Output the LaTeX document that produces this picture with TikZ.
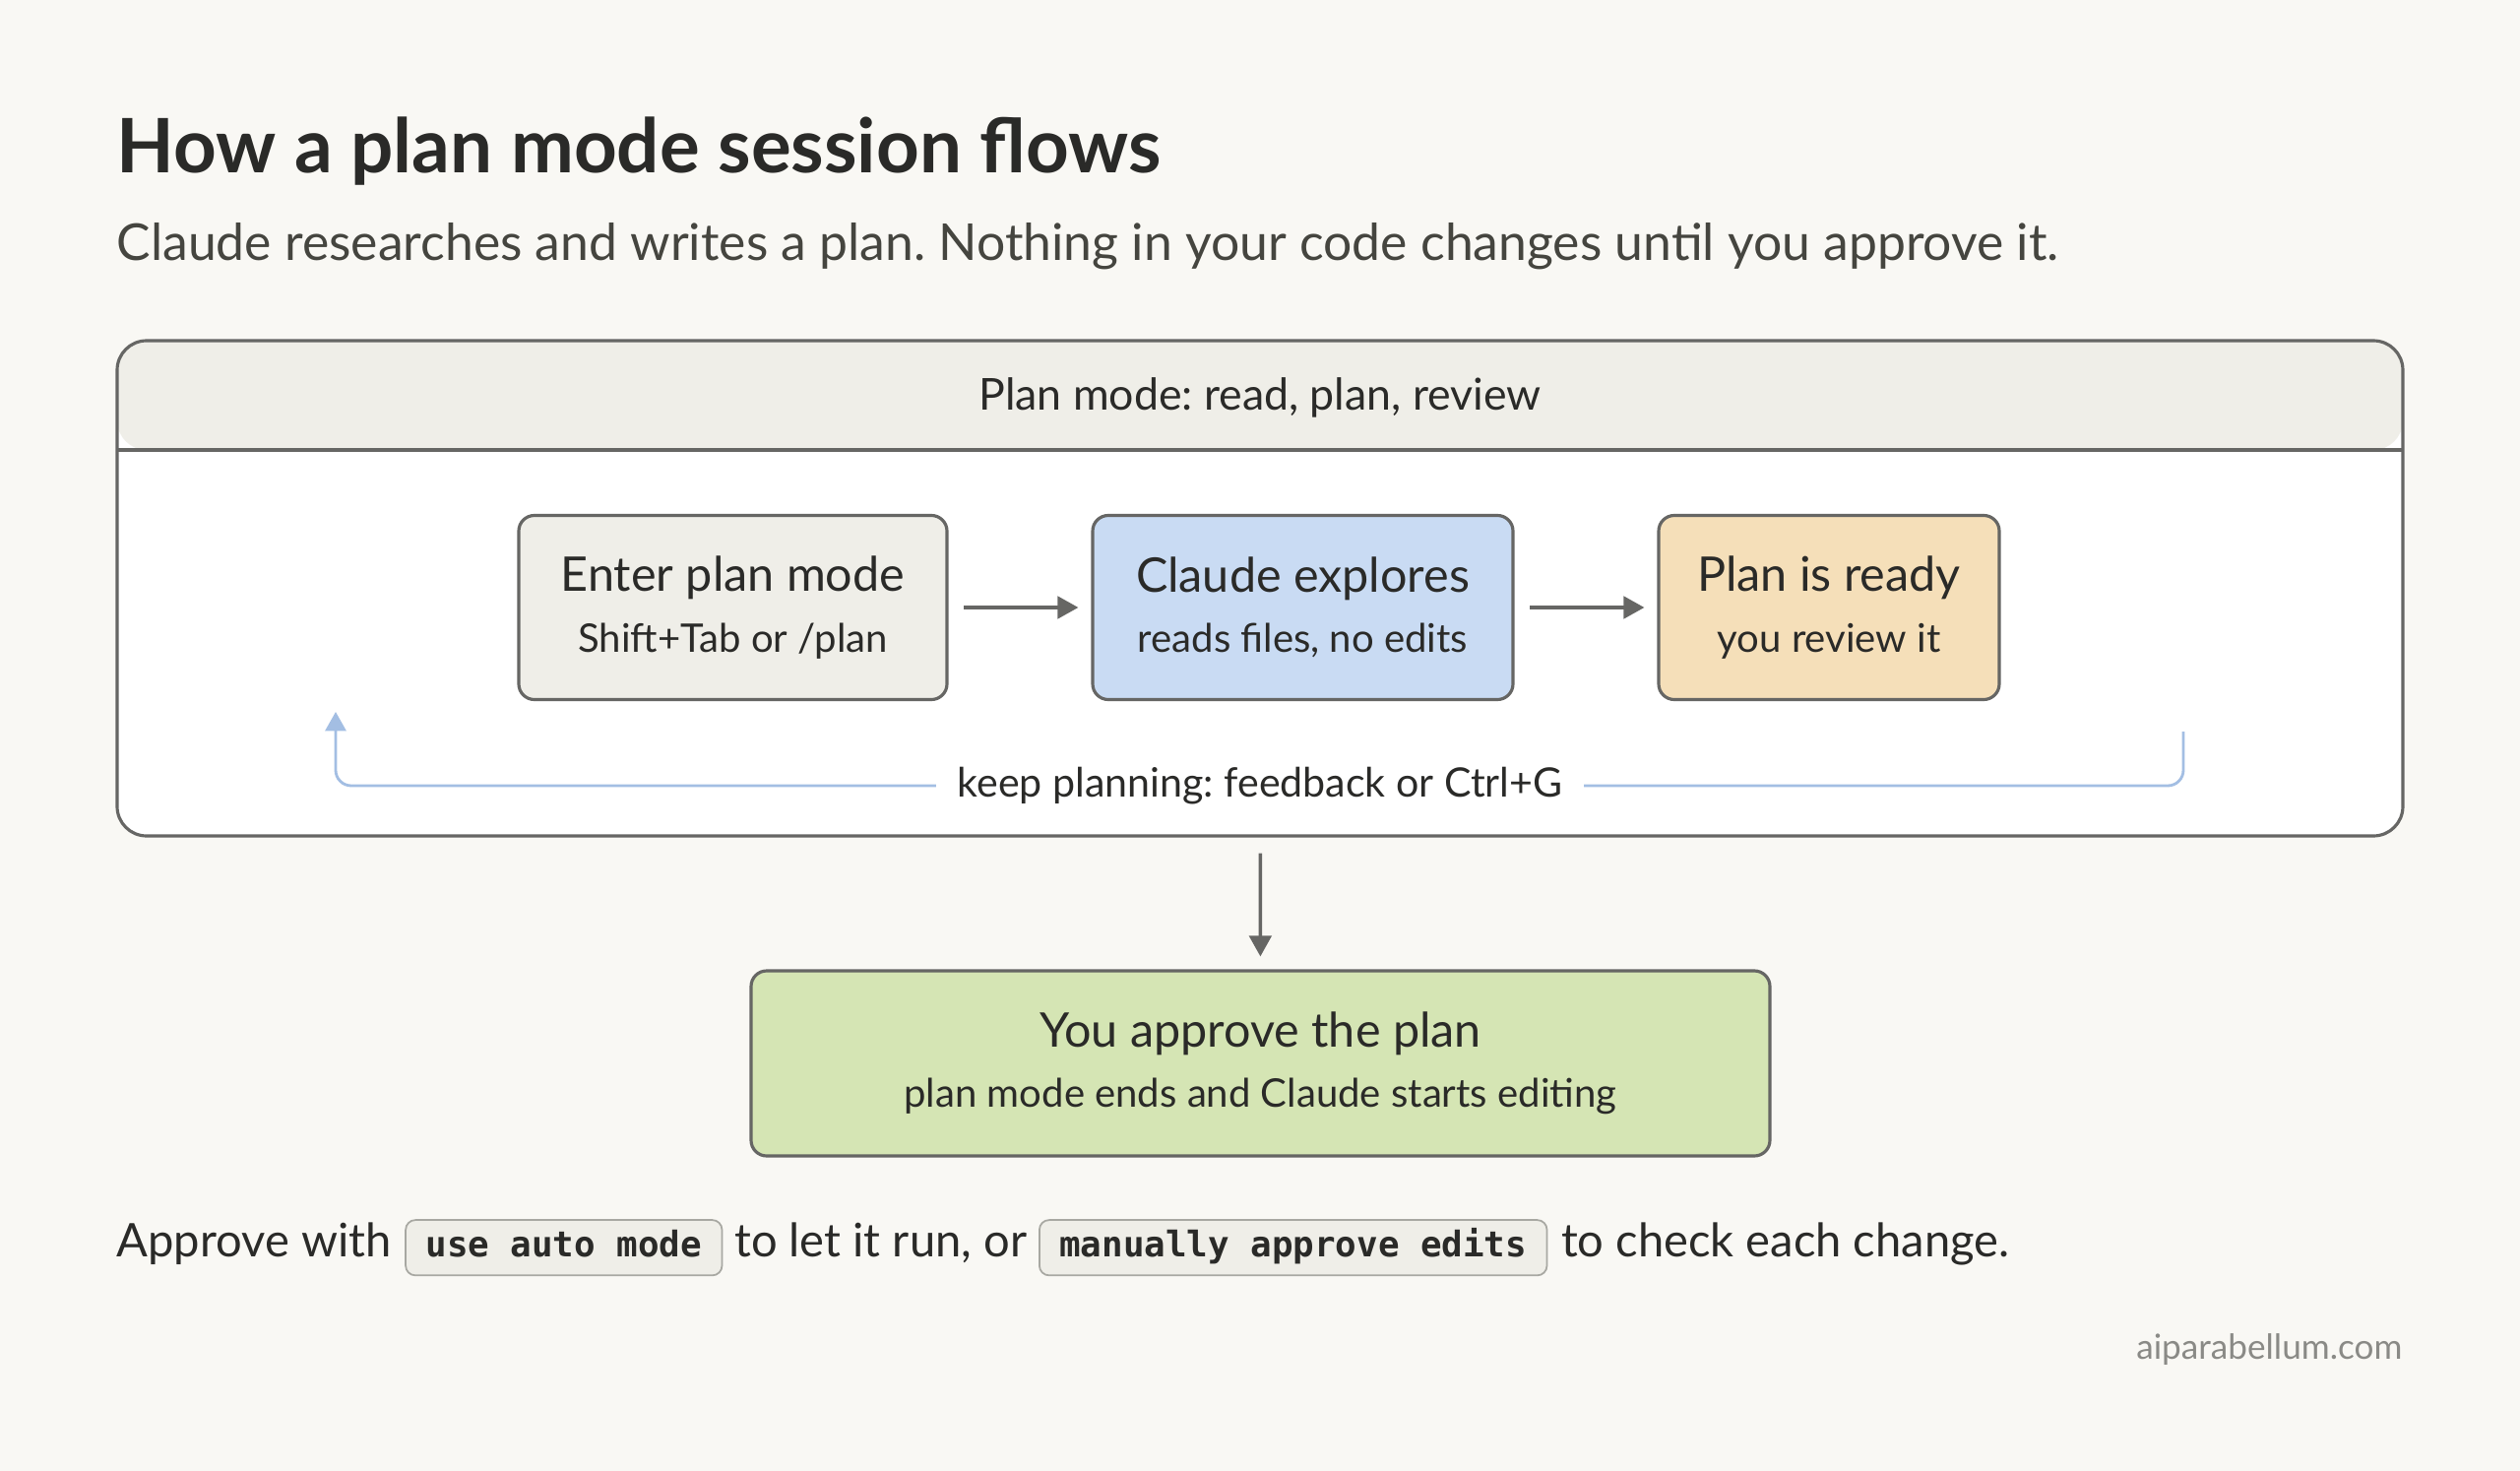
\documentclass[tikz,border=0pt]{standalone}
\usepackage{fontspec}
\setmainfont{Lato}
\setmonofont{DejaVu Sans Mono}
\usepackage{tikz}
\usetikzlibrary{positioning, arrows.meta}
\definecolor{paper}{HTML}{F9F8F4}
\definecolor{headfill}{HTML}{EFEEE8}
\definecolor{greybox}{HTML}{EFEEE8}
\definecolor{bluebox}{HTML}{C9DBF3}
\definecolor{orangebox}{HTML}{F5DFB9}
\definecolor{greenbox}{HTML}{D5E5B4}
\definecolor{edge}{HTML}{666664}
\definecolor{loopblue}{HTML}{A3BEE3}
\definecolor{ink}{HTML}{2A2A28}
\definecolor{subink}{HTML}{45453F}
\definecolor{footink}{HTML}{8A8A86}
\definecolor{codefill}{HTML}{EFEEE8}
\definecolor{codeedge}{HTML}{A8A8A2}
\newcommand{\subline}{\fontsize{11.4}{13}\selectfont}
\frenchspacing

\begin{document}
\begin{tikzpicture}[x=.1mm, y=-.1mm,
		stepbox/.style={draw=edge, line width=.9pt, rounded corners=4.5pt, minimum height=18.7mm, align=center, text=ink, font=\fontsize{13.8}{16}\selectfont},
		arr/.style={draw=edge, line width=1pt, -{Triangle[length=6pt, width=6.4pt]}},
		fb/.style={draw=loopblue, line width=.8pt, rounded corners=4.5pt},
		txt/.style={inner sep=0pt, text=ink, font=\fontsize{13.4}{16}\selectfont},
		code/.style={fill=codefill, draw=codeedge, line width=.5pt, rounded corners=2.8pt, inner xsep=5.8pt, inner ysep=3pt, text height=7.5pt, text depth=2.5pt, text=ink, font=\ttfamily\bfseries\fontsize{10.2}{12}\selectfont}]
		\fill[paper] (0,0) rectangle (2560,1494);
		\node[anchor=base west, inner sep=0pt, text=ink, font=\bfseries\fontsize{21.7}{25}\selectfont] (title) at (118,176) {How a plan mode session flows};
		\node[anchor=base west, inner sep=0pt, text=subink, font=\fontsize{14.7}{18}\selectfont] (subtitle) at (118,265) {Claude researches and writes a plan. Nothing in your code changes until you approve it.};
		\node[draw=edge, line width=.9pt, fill=white, outer sep=0pt, rounded corners=8.5pt, minimum width=232.2mm, minimum height=50.3mm, path picture={\fill[headfill] (path picture bounding box.north west) rectangle ([yshift=-11.1mm]path picture bounding box.north east);}] (mode) at (1280,597.5) {};
		\draw[edge, line width=.9pt] ([yshift=-11.1mm]mode.north west) -- ([yshift=-11.1mm]mode.north east);
		\node[anchor=base, text=ink, font=\fontsize{12.7}{14}\selectfont] (modetitle) at (1280,416) {Plan mode: read, plan, review};
		\node[stepbox, fill=greybox, minimum width=43.5mm] (enter) at (744.5,617) {Enter plan mode\\[1.5pt]{\subline Shift+Tab or /plan}};
		\node[stepbox, fill=bluebox, minimum width=42.7mm] (explore) at (1323.5,617) {Claude explores\\[1.5pt]{\subline reads files, no edits}};
		\node[stepbox, fill=orangebox, minimum width=34.6mm] (ready) at (1858,617) {Plan is ready\\[1.5pt]{\subline you review it}};
		\draw[arr, shorten <=4.5pt, shorten >=3.7pt] (enter) -- (explore);
		\draw[arr, shorten <=4.5pt, shorten >=3.7pt] (explore) -- (ready);
		\node[inner xsep=6pt, text=ink, font=\fontsize{11.7}{14}\selectfont] (keep) at (1280,798) {keep planning: feedback or Ctrl+G};
		\coordinate (loopin) at (341,723);
		\coordinate (loopout) at (2218,743);
		\draw[fb, -{Triangle[length=5.5pt, width=6pt]}] (keep.west) -| (loopin);
		\draw[fb] (keep.east) -| (loopout);
		\node[stepbox, fill=greenbox, minimum width=103.5mm, minimum height=18.8mm] (approve) at (1280.5,1080) {You approve the plan\\[1.5pt]{\subline plan mode ends and Claude starts editing}};
		\draw[arr, shorten <=5pt, shorten >=3.7pt] (mode) -- (approve);
		\node[txt, anchor=base west] (with) at (118,1276) {Approve with};
		\node[code, base right=3.7pt of with] (auto) {use auto mode};
		\node[txt, base right=3.2pt of auto] (run) {to let it run, or};
		\node[code, base right=3.2pt of run] (manual) {manually approve edits};
		\node[txt, base right=3.7pt of manual] (check) {to check each change.};
		\node[anchor=base east, inner sep=0pt, text=footink, font=\fontsize{10}{12}\selectfont] (site) at (2441,1380) {aiparabellum.com};
	\end{tikzpicture}
\end{document}
